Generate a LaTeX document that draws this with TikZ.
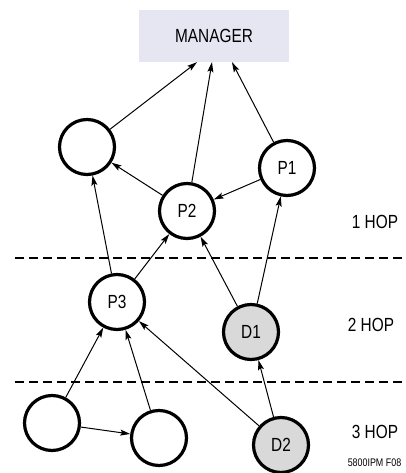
\documentclass[tikz,border=0pt]{standalone}
\usepackage{fontspec}
\setmainfont[FakeStretch=0.81]{Liberation Sans}
\usetikzlibrary{arrows.meta,calc}
\definecolor{mgrfill}{RGB}{230,230,243}
\definecolor{devgray}{RGB}{217,217,217}
\begin{document}
\begin{tikzpicture}[x=1pt,y=-1pt,
  hop/.style={circle,draw,line width=3.2pt,minimum size=55pt,inner sep=0pt,font=\fontsize{19}{22}\selectfont},
  dev/.style={hop,fill=devgray},
  link/.style={line width=1pt,-{Stealth[length=10pt,width=6pt,inset=2pt]}},
  sep/.style={dash pattern=on 9pt off 5pt, line width=1.2pt},
  lab/.style={font=\fontsize{19}{22}\selectfont,inner sep=0pt},
  note/.style={font=\fontsize{11}{13}\selectfont,inner sep=0pt}]
\useasboundingbox (0,0) rectangle (405,473);
\node[fill=mgrfill,minimum width=150pt,minimum height=52pt,inner sep=0pt,font=\fontsize{19}{22}\selectfont] (mgr) at (214,36) {MANAGER};
\coordinate (m1) at ($(mgr.south)+(-17,0)$);
\coordinate (m2) at ($(mgr.south)+(-2,0)$);
\coordinate (m3) at ($(mgr.south)+(18,0)$);

\node[hop] (L) at (87,147) {};
\node[hop] (P1) at (287,168) {P1};
\node[hop] (P2) at (187,211) {P2};
\node[hop] (P3) at (117,302) {P3};
\node[dev] (D1) at (251,332) {D1};
\node[dev] (D2) at (281,445) {D2};
\node[hop] (BL) at (52,423) {};
\node[hop] (BM) at (159,438) {};

\draw[sep] (15,258) -- (405,258);
\draw[sep] (15,382) -- (405,382);

\node[lab] (h1) at (375,222) {1 HOP};
\node[lab] (h2) at (371,325) {2 HOP};
\node[lab] (h3) at (375,432) {3 HOP};
\node[note] (fig) at (374.5,463) {5800IPM F08};

\draw[link] (L) -- (m1);
\draw[link] (P2) -- (m2);
\draw[link] (P1) -- (m3);
\draw[link] (P2) -- (L);
\draw[link] (P1) -- (P2);
\draw[link] (P3) -- (L);
\draw[link] (P3) -- (P2);
\draw[link] (D1) -- (P2);
\draw[link] (D1) -- (P1);
\draw[link] (BL) -- (P3);
\draw[link] (BM) -- (P3);
\draw[link] (D2) -- (P3);
\draw[link] (D2) -- (D1);
\draw[link] (BL) -- (BM);
\end{tikzpicture}
\end{document}
